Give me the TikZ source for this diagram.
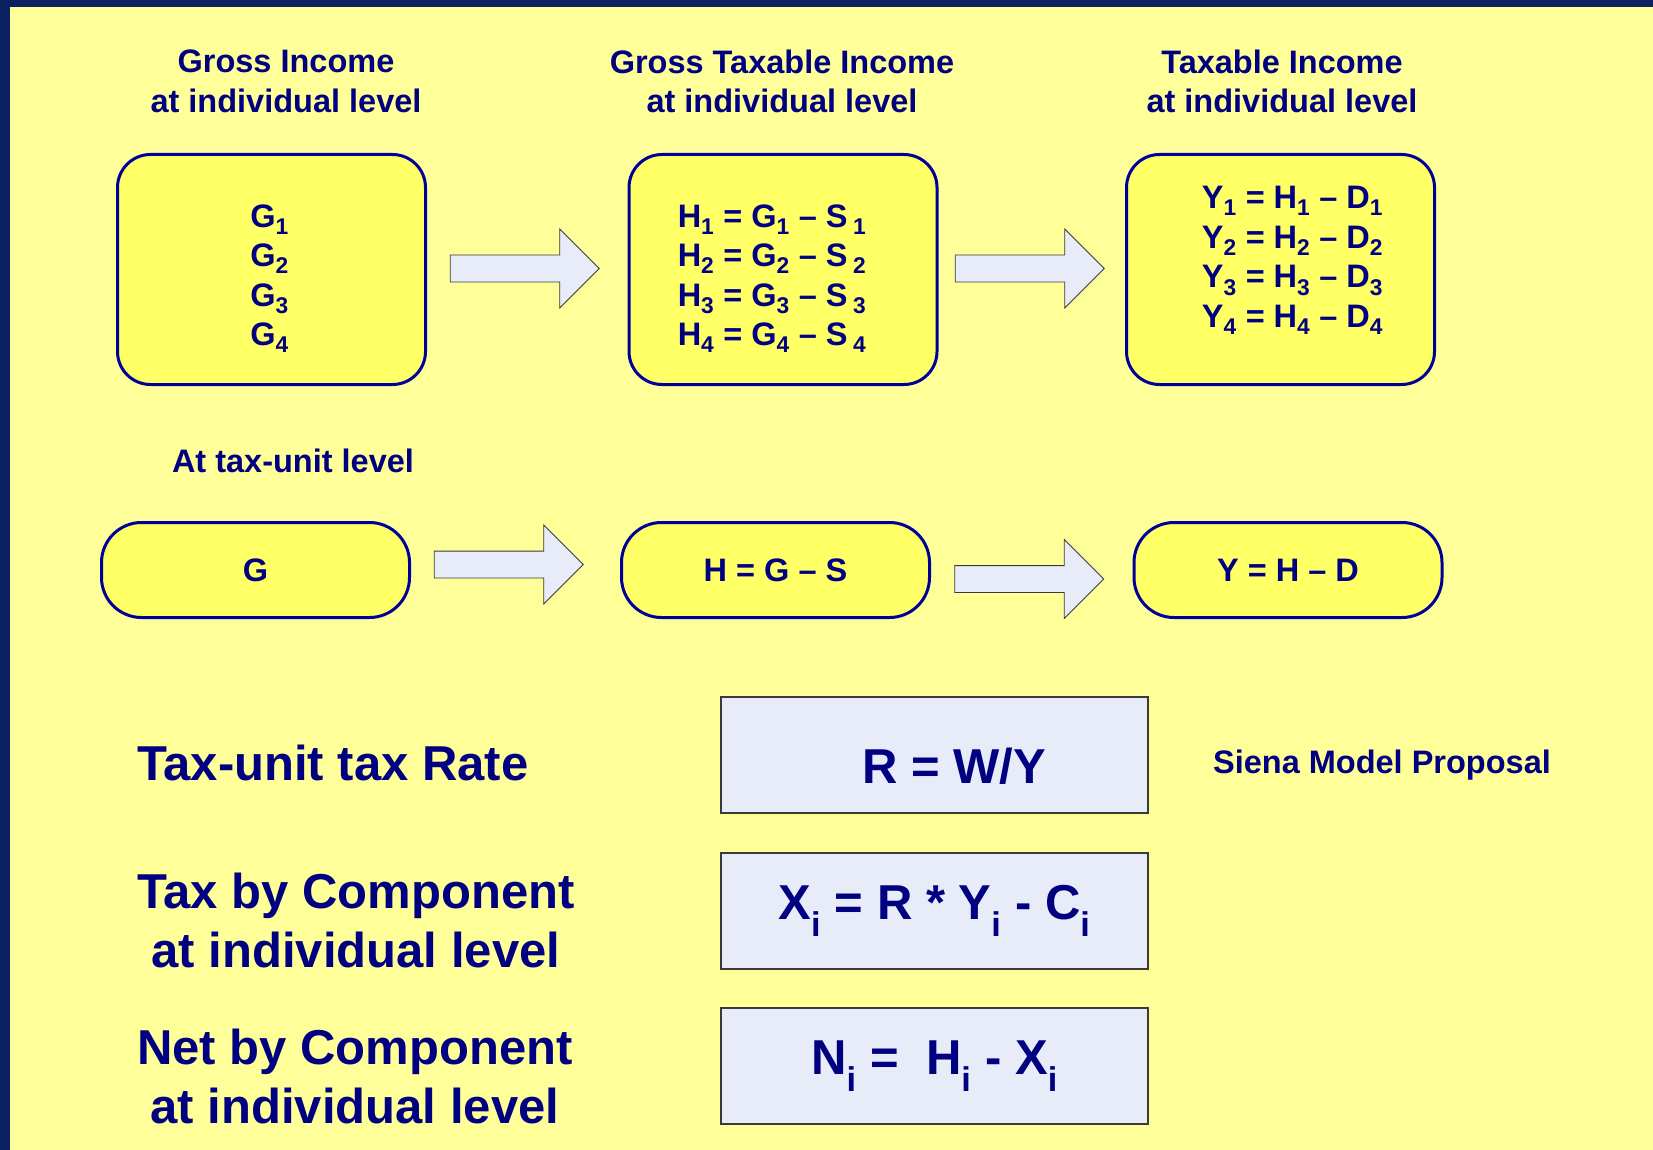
\documentclass[tikz,border=0pt]{standalone}
\usepackage{fontspec}
\setmainfont{Liberation Sans}
\usetikzlibrary{shapes.arrows}
\definecolor{frame}{HTML}{0A2060}
\definecolor{slide}{HTML}{FFFF99}
\definecolor{ink}{HTML}{000080}
\definecolor{boxline}{HTML}{000099}
\definecolor{boxfill}{HTML}{FFFF66}
\definecolor{formfill}{HTML}{E8ECF8}
\definecolor{arrowline}{HTML}{3A3A3A}

\begin{document}
\begin{tikzpicture}[
  x=1pt, y=-1pt,
  font=\fontsize{32.5}{39.5}\selectfont\bfseries,
  every node/.style={text=ink},
  heading/.style={align=center, inner sep=0pt},
  indiv/.style={draw=boxline, fill=boxfill, line width=3pt, rounded corners=33pt,
    minimum width=308pt, minimum height=230pt},
  lines/.style={align=center, inner sep=0pt},
  unit/.style={draw=boxline, fill=boxfill, line width=3pt, rounded corners=40pt,
    minimum width=308pt, minimum height=95pt},
  bigarrow/.style={single arrow, draw=arrowline, fill=formfill, line width=0.8pt,
    minimum height=149pt, inner xsep=0pt, inner ysep=13pt, single arrow head extend=26pt},
  formula/.style={draw=arrowline, fill=formfill, line width=1.2pt,
    minimum width=427pt, minimum height=116pt, font=\fontsize{49}{59}\selectfont\bfseries},
  biglabel/.style={anchor=west, align=center, inner sep=0pt, font=\fontsize{49}{59}\selectfont\bfseries}
]
% slide background and frame
\fill[slide] (0,0) rectangle (1653,1150);
\fill[frame] (0,0) rectangle (1653,7);
\fill[frame] (0,0) rectangle (10,1150);
\useasboundingbox (0,0) rectangle (1653,1150);

% individual level
\node[heading] (gtitle) at (286,81.5) {Gross Income\\at individual level};
\node[heading] (htitle) at (782,81.5) {Gross Taxable Income\\at individual level};
\node[heading] (ytitle) at (1282,81.5) {Taxable Income\\at individual level};

\node[indiv] (gind) at (271.5,269.5) {};
\node[indiv] (hind) at (783,269.5) {};
\node[indiv] (yind) at (1280.5,269.5) {};

\node[lines] (glines) at ([xshift=-2pt,yshift=-9pt]gind.center)
  {G\textsubscript{1}\\G\textsubscript{2}\\G\textsubscript{3}\\G\textsubscript{4}};
\node[lines] (hlines) at ([xshift=-11pt,yshift=-9pt]hind.center)
  {H\textsubscript{1} = G\textsubscript{1} – S\,\textsubscript{1}\\
   H\textsubscript{2} = G\textsubscript{2} – S\,\textsubscript{2}\\
   H\textsubscript{3} = G\textsubscript{3} – S\,\textsubscript{3}\\
   H\textsubscript{4} = G\textsubscript{4} – S\,\textsubscript{4}};
\node[lines] (ylines) at ([xshift=12pt,yshift=9pt]yind.center)
  {Y\textsubscript{1} = H\textsubscript{1} – D\textsubscript{1}\\
   Y\textsubscript{2} = H\textsubscript{2} – D\textsubscript{2}\\
   Y\textsubscript{3} = H\textsubscript{3} – D\textsubscript{3}\\
   Y\textsubscript{4} = H\textsubscript{4} – D\textsubscript{4}};

\node[bigarrow] (arr1) at (518,268.5) {};
\node[bigarrow] (arr2) at (1023,268.5) {};

% tax-unit level
\node[heading] (unittitle) at (293,461) {At tax-unit level};
\node[unit] (gunit) at (255.5,570) {G};
\node[unit] (hunit) at (775.5,570) {H = G – S};
\node[unit] (yunit) at (1288,570) {Y = H – D};

\node[bigarrow] (arr3) at (502,564.5) {};
\node[bigarrow] (arr4) at (1022.5,579) {};

% rate, tax and net
\node[biglabel] (ratelabel) at (137,763) {Tax-unit tax Rate};
\node[formula, text height=57pt, text depth=0pt] (rate) at (934.5,755) {\hspace*{39pt}R = W/Y};
\node (siena) at (1382,765) {Siena Model Proposal};

\node[biglabel] (taxlabel) at (137,920.5) {Tax by Component\\at individual level};
\node[formula] (tax) at (934.5,911) {X\textsubscript{i} = R * Y\textsubscript{i} - C\textsubscript{i}};

\node[biglabel] (netlabel) at (137,1076) {Net by Component\\at individual level};
\node[formula] (net) at (934.5,1066) {N\textsubscript{i} = \ H\textsubscript{i} - X\textsubscript{i}};
\end{tikzpicture}
\end{document}
